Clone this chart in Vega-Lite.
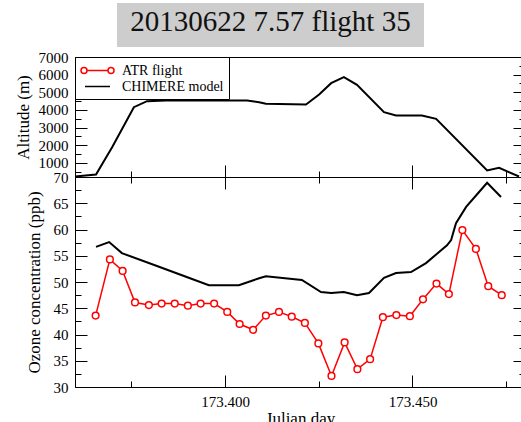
{
  "$schema": "https://vega.github.io/schema/vega-lite/v6.json",
  "padding": {"top": 3, "left": 13, "right": 0, "bottom": 0},
  "background": "white",
  "config": {
    "font": "Liberation Serif",
    "view": {"stroke": "black", "strokeWidth": 1},
    "axis": {"labelFont": "Liberation Serif", "titleFont": "Liberation Serif", "labelFontSize": 15, "titleFontSize": 17, "titleFontWeight": "normal", "labelColor": "black", "titleColor": "black", "tickColor": "black", "tickWidth": 1, "domain": false, "grid": false, "labelOverlap": false, "labelBound": false, "labelFlush": false},
    "legend": {"orient": "top-left", "offset": 0, "title": null, "strokeColor": "black", "fillColor": "white", "padding": 5, "labelFont": "Liberation Serif", "labelFontSize": 14, "labelColor": "black", "symbolSize": 225, "symbolStrokeWidth": 1.5, "symbolOffset": 9, "labelOffset": 16, "rowPadding": 0, "symbolOpacity": 1, "symbolFillColor": "transparent"}
  },
  "datasets": {
    "altitude": [
      {"jd": 173.3600, "alt": 228, "series": "CHIMERE model"},
      {"jd": 173.3656, "alt": 342, "series": "CHIMERE model"},
      {"jd": 173.3699, "alt": 1889, "series": "CHIMERE model"},
      {"jd": 173.3757, "alt": 4155, "series": "CHIMERE model"},
      {"jd": 173.3792, "alt": 4495, "series": "CHIMERE model"},
      {"jd": 173.3843, "alt": 4535, "series": "CHIMERE model"},
      {"jd": 173.4059, "alt": 4535, "series": "CHIMERE model"},
      {"jd": 173.4091, "alt": 4439, "series": "CHIMERE model"},
      {"jd": 173.4109, "alt": 4348, "series": "CHIMERE model"},
      {"jd": 173.4216, "alt": 4308, "series": "CHIMERE model"},
      {"jd": 173.4251, "alt": 4875, "series": "CHIMERE model"},
      {"jd": 173.4283, "alt": 5515, "series": "CHIMERE model"},
      {"jd": 173.4317, "alt": 5856, "series": "CHIMERE model"},
      {"jd": 173.4352, "alt": 5425, "series": "CHIMERE model"},
      {"jd": 173.4424, "alt": 3872, "series": "CHIMERE model"},
      {"jd": 173.4456, "alt": 3685, "series": "CHIMERE model"},
      {"jd": 173.4525, "alt": 3685, "series": "CHIMERE model"},
      {"jd": 173.4563, "alt": 3498, "series": "CHIMERE model"},
      {"jd": 173.4699, "alt": 568, "series": "CHIMERE model"},
      {"jd": 173.4731, "alt": 721, "series": "CHIMERE model"},
      {"jd": 173.4757, "alt": 472, "series": "CHIMERE model"},
      {"jd": 173.4784, "alt": 228, "series": "CHIMERE model"}
    ],
    "ozone_model": [
      {"jd": 173.3656, "ozone": 56.7},
      {"jd": 173.3691, "ozone": 57.6},
      {"jd": 173.3725, "ozone": 55.5},
      {"jd": 173.3824, "ozone": 52.9},
      {"jd": 173.3896, "ozone": 51.0},
      {"jd": 173.3957, "ozone": 49.4},
      {"jd": 173.4037, "ozone": 49.4},
      {"jd": 173.4091, "ozone": 50.7},
      {"jd": 173.4109, "ozone": 51.1},
      {"jd": 173.4205, "ozone": 50.4},
      {"jd": 173.4256, "ozone": 48.1},
      {"jd": 173.4283, "ozone": 47.9},
      {"jd": 173.4317, "ozone": 48.1},
      {"jd": 173.4352, "ozone": 47.5},
      {"jd": 173.4384, "ozone": 47.9},
      {"jd": 173.4424, "ozone": 50.8},
      {"jd": 173.4456, "ozone": 51.7},
      {"jd": 173.4496, "ozone": 51.9},
      {"jd": 173.4536, "ozone": 53.6},
      {"jd": 173.4592, "ozone": 57.0},
      {"jd": 173.4603, "ozone": 58.0},
      {"jd": 173.4616, "ozone": 61.2},
      {"jd": 173.4643, "ozone": 64.3},
      {"jd": 173.4677, "ozone": 67.1},
      {"jd": 173.4699, "ozone": 68.9},
      {"jd": 173.4736, "ozone": 66.2}
    ],
    "ozone_atr": [
      {"jd": 173.3655, "ozone": 43.6},
      {"jd": 173.3693, "ozone": 54.3},
      {"jd": 173.3727, "ozone": 52.1},
      {"jd": 173.3760, "ozone": 46.1},
      {"jd": 173.3797, "ozone": 45.6},
      {"jd": 173.3831, "ozone": 45.9},
      {"jd": 173.3866, "ozone": 45.9},
      {"jd": 173.3901, "ozone": 45.5},
      {"jd": 173.3935, "ozone": 45.9},
      {"jd": 173.3971, "ozone": 45.9},
      {"jd": 173.4006, "ozone": 44.3},
      {"jd": 173.4039, "ozone": 42.0},
      {"jd": 173.4075, "ozone": 40.9},
      {"jd": 173.4109, "ozone": 43.6},
      {"jd": 173.4144, "ozone": 44.3},
      {"jd": 173.4178, "ozone": 43.4},
      {"jd": 173.4213, "ozone": 42.2},
      {"jd": 173.4249, "ozone": 38.3},
      {"jd": 173.4284, "ozone": 32.1},
      {"jd": 173.4319, "ozone": 38.5},
      {"jd": 173.4353, "ozone": 33.4},
      {"jd": 173.4387, "ozone": 35.3},
      {"jd": 173.4421, "ozone": 43.3},
      {"jd": 173.4457, "ozone": 43.7},
      {"jd": 173.4493, "ozone": 43.5},
      {"jd": 173.4528, "ozone": 46.7},
      {"jd": 173.4564, "ozone": 49.7},
      {"jd": 173.4597, "ozone": 47.7},
      {"jd": 173.4633, "ozone": 59.9},
      {"jd": 173.4669, "ozone": 56.3},
      {"jd": 173.4702, "ozone": 49.2},
      {"jd": 173.4738, "ozone": 47.5}
    ]
  },
  "spacing": 2,
  "center": false,
  "resolve": {"scale": {"color": "independent", "shape": "independent"}, "legend": {"color": "independent", "shape": "independent"}},
  "vconcat": [
    {
      "spacing": 0,
      "hconcat": [
        {
          "data": {"values": []},
          "width": 42,
          "height": 44,
          "view": {"stroke": null, "fill": null},
          "mark": "point"
        },
        {
          "data": {"values": [{"title": "20130622 7.57 flight 35"}]},
          "width": 307,
          "height": 44,
          "view": {"fill": "#cdcdcd", "stroke": null},
          "mark": {"type": "text", "font": "Liberation Serif", "fontSize": 29, "color": "#111111", "dy": -3},
          "encoding": {"text": {"field": "title", "type": "nominal"}}
        }
      ]
    },
    {
      "spacing": 0,
      "bounds": "flush",
      "resolve": {"scale": {"color": "independent", "shape": "independent"}, "legend": {"color": "independent", "shape": "independent"}},
      "vconcat": [
        {
          "width": 450,
          "height": 120,
          "resolve": {"axis": {"x": "independent", "y": "independent"}},
          "layer": [
            {
              "data": {"name": "altitude"},
              "mark": {"type": "line", "color": "black", "strokeWidth": 2, "clip": true},
              "encoding": {
                "x": {"field": "jd", "type": "quantitative", "scale": {"domain": [173.36, 173.48], "nice": false, "zero": false},
                  "axis": {"orient": "bottom", "values": [173.4, 173.45], "labels": false, "title": null, "minExtent": 0, "maxExtent": 0, "tickSize": -12}},
                "y": {"field": "alt", "type": "quantitative", "scale": {"domain": [200, 7000], "nice": false, "zero": false},
                  "axis": {"orient": "left", "values": [1000, 2000, 3000, 4000, 5000, 6000, 7000], "format": "d", "tickSize": -12, "labelPadding": 19,
                    "labelFont": "Liberation Serif", "titleFont": "Liberation Serif", "labelFontSize": 15, "titleFontSize": 17,
                    "title": "Altitude (m)", "titlePadding": 6}}
              }
            },
            {
              "data": {"name": "altitude"},
              "mark": {"type": "point", "opacity": 0, "filled": false},
              "encoding": {
                "x": {"field": "jd", "type": "quantitative",
                  "axis": {"orient": "bottom", "values": [173.375, 173.425, 173.475], "labels": false, "title": null, "minExtent": 0, "maxExtent": 0, "tickSize": -6}},
                "y": {"field": "alt", "type": "quantitative",
                  "axis": {"orient": "left", "values": [500, 1500, 2500, 3500, 4500, 5500, 6500], "labels": false, "title": null, "minExtent": 0, "tickSize": -6}},
                "color": {"field": "series", "type": "nominal", "scale": {"domain": ["ATR flight", "CHIMERE model"], "range": ["#ff0000", "#000000"]}},
                "shape": {"field": "series", "type": "nominal", "scale": {"domain": ["ATR flight", "CHIMERE model"], "range": ["M-1.4,0L1.4,0M-2.2,0A0.4,0.4 0 1,0 -1.4,0A0.4,0.4 0 1,0 -2.2,0M1.4,0A0.4,0.4 0 1,0 2.2,0A0.4,0.4 0 1,0 1.4,0", "M-1.67,0L1.67,0"]}}
              }
            },
            {
              "data": {"name": "altitude"},
              "mark": {"type": "line", "opacity": 0, "strokeOpacity": 0},
              "encoding": {
                "x": {"field": "jd", "type": "quantitative", "axis": null},
                "y": {"field": "alt", "type": "quantitative",
                  "axis": {"orient": "right", "values": [1000, 2000, 3000, 4000, 5000, 6000, 7000], "labels": false, "title": null, "minExtent": 0, "tickSize": -12}}
              }
            },
            {
              "data": {"name": "altitude"},
              "mark": {"type": "line", "opacity": 0, "strokeOpacity": 0},
              "encoding": {
                "x": {"field": "jd", "type": "quantitative", "axis": null},
                "y": {"field": "alt", "type": "quantitative",
                  "axis": {"orient": "right", "values": [500, 1500, 2500, 3500, 4500, 5500, 6500], "labels": false, "title": null, "minExtent": 0, "tickSize": -6}}
              }
            }
          ]
        },
        {
          "width": 450,
          "height": 210,
          "resolve": {"axis": {"x": "independent", "y": "independent"}},
          "layer": [
            {
              "data": {"name": "ozone_model"},
              "mark": {"type": "line", "opacity": 0, "strokeOpacity": 0},
              "encoding": {
                "x": {"field": "jd", "type": "quantitative",
                  "axis": {"orient": "top", "values": [173.4, 173.45], "labels": false, "title": null, "minExtent": 0, "maxExtent": 0, "tickSize": -12}},
                "y": {"field": "ozone", "type": "quantitative",
                  "axis": {"orient": "right", "values": [30, 35, 40, 45, 50, 55, 60, 65, 70], "labels": false, "title": null, "minExtent": 0, "tickSize": -12}}
              }
            },
            {
              "data": {"name": "ozone_model"},
              "mark": {"type": "line", "opacity": 0, "strokeOpacity": 0},
              "encoding": {
                "x": {"field": "jd", "type": "quantitative",
                  "axis": {"orient": "top", "values": [173.375, 173.425, 173.475], "labels": false, "title": null, "minExtent": 0, "maxExtent": 0, "tickSize": -6}},
                "y": {"field": "ozone", "type": "quantitative",
                  "axis": {"orient": "right", "values": [32.5, 37.5, 42.5, 47.5, 52.5, 57.5, 62.5, 67.5], "labels": false, "title": null, "minExtent": 0, "tickSize": -6}}
              }
            },
            {
              "data": {"name": "ozone_model"},
              "mark": {"type": "line", "color": "black", "strokeWidth": 2, "clip": true},
              "encoding": {
                "x": {"field": "jd", "type": "quantitative", "scale": {"domain": [173.36, 173.48], "nice": false, "zero": false},
                  "axis": {"orient": "bottom", "values": [173.4, 173.45], "format": ".3f", "tickSize": -12, "labelPadding": 19,
                    "labelFont": "Liberation Serif", "titleFont": "Liberation Serif", "labelFontSize": 15, "titleFontSize": 17,
                    "title": "Julian day", "titlePadding": 1}},
                "y": {"field": "ozone", "type": "quantitative", "scale": {"domain": [30, 70], "nice": false, "zero": false},
                  "axis": {"orient": "left", "values": [30, 35, 40, 45, 50, 55, 60, 65, 70], "format": "d", "tickSize": -12, "labelPadding": 19,
                    "labelFont": "Liberation Serif", "titleFont": "Liberation Serif", "labelFontSize": 15, "titleFontSize": 17,
                    "title": "Ozone concentration (ppb)", "titlePadding": 10}}
              }
            },
            {
              "data": {"name": "ozone_atr"},
              "mark": {"type": "line", "color": "#ff0000", "strokeWidth": 1.5, "clip": true,
                "point": {"filled": true, "fill": "white", "stroke": "#ff0000", "strokeWidth": 1.5, "size": 45}},
              "encoding": {
                "x": {"field": "jd", "type": "quantitative",
                  "axis": {"orient": "bottom", "values": [173.375, 173.425, 173.475], "labels": false, "title": null, "minExtent": 0, "tickSize": -6}},
                "y": {"field": "ozone", "type": "quantitative",
                  "axis": {"orient": "left", "values": [32.5, 37.5, 42.5, 47.5, 52.5, 57.5, 62.5, 67.5], "labels": false, "title": null, "minExtent": 0, "tickSize": -6}}
              }
            }
          ]
        }
      ]
    }
  ]
}
